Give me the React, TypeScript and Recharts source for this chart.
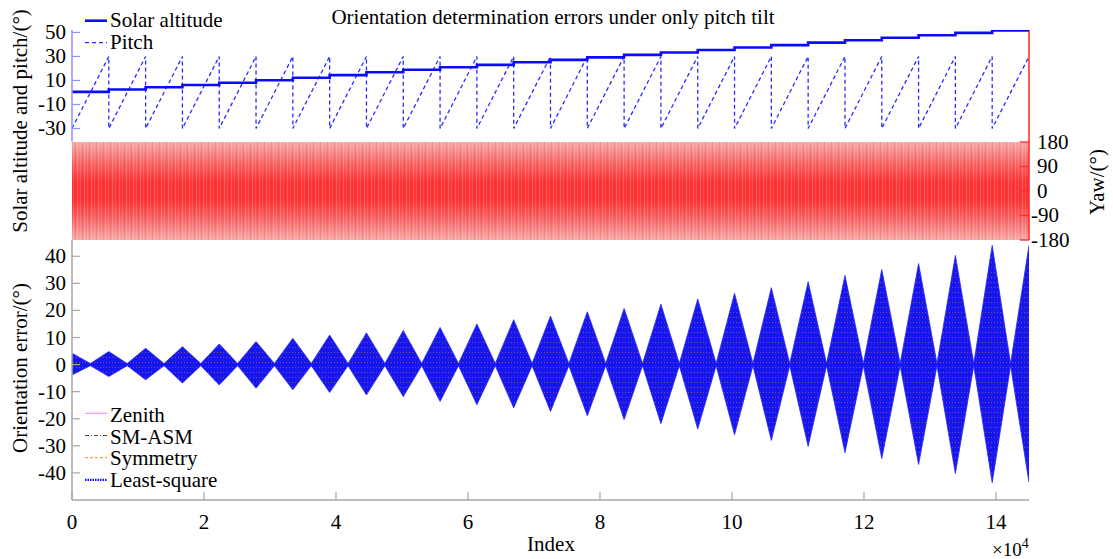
import React from 'react';
import { LineChart, AreaChart, ComposedChart, Line, Area, XAxis, YAxis, Legend } from 'recharts';

// ---------- data ----------
const X_MAX = 145000;
const SWEEP = 5576.9; // index length of one pitch sweep
const solarAltitude = [0.5, 2.5, 4.3, 6.2, 8.1, 10.2, 12.2, 14.4, 16.8, 18.9, 21.0, 23.0, 25.1, 27.1, 29.2, 31.3, 33.3, 35.3, 37.4, 39.4, 41.5, 43.5, 45.5, 47.6, 49.6, 51.6];
const pitchRange = [-30, 30];
const yawRange = [-180, 180];
const errorUpper = [4.2, 4.8, 6.0, 6.6, 7.6, 8.5, 9.7, 10.9, 11.7, 12.6, 13.7, 15.0, 16.6, 17.9, 19.5, 20.7, 22.3, 24.2, 26.3, 28.4, 30.6, 32.9, 35.1, 37.3, 40.3, 44.0, 44.0];
const errorLower = [-3.8, -4.4, -5.6, -6.8, -7.5, -8.7, -9.3, -10.3, -11.2, -11.8, -13.6, -14.8, -16.0, -17.3, -18.9, -20.3, -21.8, -23.8, -25.9, -28.0, -30.2, -32.5, -34.7, -36.9, -40.2, -43.6, -43.5];
const waistError = [-0.4, 0.4];

const xTicks = [0, 20000, 40000, 60000, 80000, 100000, 120000, 140000];
const altTicks = [-30, -10, 10, 30, 50];
const yawTicks = [-180, -90, 0, 90, 180];
const errTicks = [-40, -30, -20, -10, 0, 10, 20, 30, 40];

// ---------- derived tables ----------
const pitchData: { x: number; v: number }[] = [];
solarAltitude.forEach((_, k) => {
  pitchData.push({ x: k * SWEEP, v: pitchRange[0] });
  pitchData.push({ x: (k + 1) * SWEEP, v: pitchRange[1] });
});
const altData = solarAltitude.map((v, k) => ({ x: k * SWEEP, v }));
altData.push({ x: X_MAX, v: solarAltitude[solarAltitude.length - 1] });

const yawData = [{ x: 0, yaw: yawRange }, { x: X_MAX, yaw: yawRange }];

const errData: { x: number; ls: number[] }[] = [];
errorUpper.forEach((hi, k) => {
  errData.push({ x: k * SWEEP, ls: [errorLower[k], hi] });
  if (k < errorUpper.length - 1) errData.push({ x: (k + 0.5) * SWEEP, ls: waistError });
});

// ---------- styling ----------
const FONT = "'Liberation Serif', 'Times New Roman', Times, serif";
const FS = 21;
const W = 1113;

const leftTick = (color: string, margin: number) => (props: any) => {
  const { x, y, payload } = props;
  const ax = x + margin;
  return (
    <g>
      <line x1={ax} x2={ax + 8} y1={y} y2={y} stroke={color} strokeWidth={1.2} />
      <text x={x} y={y} textAnchor="end" dominantBaseline="central" fontSize={FS} fontFamily={FONT} fill="#000">{payload.value}</text>
    </g>
  );
};

const rightTick = (color: string, margin: number) => (props: any) => {
  const { x, y, payload } = props;
  const ax = x - margin;
  const neg = payload.value < 0;
  return (
    <g>
      <line x1={ax} x2={ax - 9} y1={y} y2={y} stroke={color} strokeWidth={1.4} />
      <text x={neg ? x - 6 : x} y={y} textAnchor="start" dominantBaseline="central" fontSize={FS} fontFamily={FONT} fill="#000">{payload.value}</text>
    </g>
  );
};

const bottomTick = (color: string, margin: number) => (props: any) => {
  const { x, y, payload } = props;
  const ay = y - margin;
  return (
    <g>
      <line x1={x} x2={x} y1={ay} y2={ay - 8} stroke={color} strokeWidth={1.2} />
      <text x={x} y={y} textAnchor="middle" dominantBaseline="central" fontSize={FS} fontFamily={FONT} fill="#000">{payload.value / 10000}</text>
    </g>
  );
};

const TopLegend = () => (
  <svg width={190} height={52} style={{ overflow: 'visible' }}>
    <line x1={5} x2={27} y1={15.7} y2={15.7} stroke="#0a0aff" strokeWidth={2.6} />
    <text x={30} y={21.7} fontSize={FS} fontFamily={FONT} fill="#000">Solar altitude</text>
    <line x1={5} x2={27} y1={37.7} y2={37.7} stroke="#2a2aff" strokeWidth={1.3} strokeDasharray="4 3" />
    <text x={30} y={44.3} fontSize={FS} fontFamily={FONT} fill="#000">Pitch</text>
  </svg>
);

const bottomEntries = [
  { name: 'Zenith', color: '#ff7dff', dash: undefined as string | undefined, w: 1 },
  { name: 'SM-ASM', color: '#444444', dash: '4 2 1 2', w: 1 },
  { name: 'Symmetry', color: '#ff8c1a', dash: '3 2', w: 1 },
  { name: 'Least-square', color: '#1010ff', dash: '1.5 1', w: 2.2 },
];

const BottomLegend = () => (
  <svg width={170} height={95} style={{ overflow: 'visible' }}>
    {bottomEntries.map((e, i) => (
      <g key={e.name}>
        <line x1={5} x2={27} y1={13.3 + i * 22.2} y2={13.3 + i * 22.2} stroke={e.color} strokeWidth={e.w} strokeDasharray={e.dash} />
        <text x={30} y={21.7 + i * 21.8} fontSize={FS} fontFamily={FONT} fill="#000">{e.name}</text>
      </g>
    ))}
  </svg>
);

export default function App() {
  return (
    <div style={{ position: 'absolute', left: 0, top: 0, width: W, height: 559, background: '#fff', overflow: 'hidden' }}>
      {/* middle panel: yaw band + red right axis */}
      <div style={{ position: 'absolute', left: 0, top: 0 }}>
        <AreaChart width={W} height={270} data={yawData} margin={{ top: 30, right: 0, bottom: 30, left: 72 }}>
          <defs>
            <linearGradient id="yawGrad" x1="0" y1="0" x2="0" y2="1">
              <stop offset="0%" stopColor="#f7a9a9" />
              <stop offset="18%" stopColor="#f76f6f" />
              <stop offset="40%" stopColor="#ff3434" />
              <stop offset="60%" stopColor="#ff3434" />
              <stop offset="82%" stopColor="#f76f6f" />
              <stop offset="100%" stopColor="#f7a9a9" />
            </linearGradient>
            <pattern id="yawStripes" width="7" height="10" patternUnits="userSpaceOnUse">
              <rect x="0" y="0" width="1" height="10" fill="#ffffff" opacity="0.22" />
              <rect x="3" y="0" width="1" height="10" fill="#ffffff" opacity="0.12" />
              <rect x="5" y="0" width="1" height="10" fill="#b00000" opacity="0.08" />
            </pattern>
          </defs>
          <XAxis type="number" dataKey="x" domain={[0, X_MAX]} hide allowDataOverflow />
          <YAxis orientation="right" width={84} domain={[-180, 591.4]} ticks={yawTicks} interval={0}
            tickSize={0} tickMargin={8} tickLine={false} allowDataOverflow
            axisLine={{ stroke: '#ff3030', strokeWidth: 1.6 }} tick={rightTick('#ff3030', 8)} />
          <Area dataKey="yaw" stroke="none" fill="url(#yawGrad)" fillOpacity={1} isAnimationActive={false} dot={false} />
          <Area dataKey="yaw" stroke="none" fill="url(#yawStripes)" fillOpacity={1} isAnimationActive={false} dot={false} />
        </AreaChart>
      </div>

      {/* top panel: solar altitude and pitch */}
      <div style={{ position: 'absolute', left: 0, top: 0 }}>
        <LineChart width={W} height={160} margin={{ top: 30, right: 84, bottom: 18.3, left: 0 }}>
          <XAxis type="number" dataKey="x" domain={[0, X_MAX]} hide allowDataOverflow />
          <YAxis width={72} domain={[-41, 52]} ticks={altTicks} interval={0} tickSize={0} tickMargin={6}
            tickLine={false} allowDataOverflow axisLine={{ stroke: '#9090ff', strokeWidth: 1.5 }}
            tick={leftTick('#9090ff', 6)} />
          <Line data={pitchData} dataKey="v" name="Pitch" stroke="#2a2aff" strokeWidth={1.3} strokeDasharray="4 3"
            dot={false} isAnimationActive={false} />
          <Line data={altData} dataKey="v" name="Solar altitude" type="stepAfter" stroke="#0a0aff" strokeWidth={2.6}
            dot={false} isAnimationActive={false} />
          <Legend layout="horizontal" verticalAlign="middle" align="center" content={() => <TopLegend />}
            wrapperStyle={{ left: 80, top: 5, width: 190, height: 52 }} />
        </LineChart>
      </div>

      {/* bottom panel: orientation errors */}
      <div style={{ position: 'absolute', left: 0, top: 0 }}>
        <ComposedChart width={W} height={559} data={errData} margin={{ top: 240, right: 84, bottom: 0, left: 0 }}>
          <defs>
            <pattern id="lsPat" width="3" height="5" patternUnits="userSpaceOnUse">
              <rect x="0" y="0" width="3" height="5" fill="#1616ee" />
              <rect x="1" y="2" width="1" height="1" fill="#d8703c" opacity="0.55" />
            </pattern>
          </defs>
          <XAxis type="number" dataKey="x" domain={[0, X_MAX]} ticks={xTicks} interval={0} height={59}
            tickSize={0} tickMargin={22} tickLine={false} allowDataOverflow
            axisLine={{ stroke: '#a6a6a6', strokeWidth: 1.5 }} tick={bottomTick('#a6a6a6', 22)} />
          <YAxis width={72} domain={[-50, 46]} ticks={errTicks} interval={0} tickSize={0} tickMargin={6}
            tickLine={false} allowDataOverflow axisLine={{ stroke: '#a6a6a6', strokeWidth: 1.5 }}
            tick={leftTick('#a6a6a6', 6)} />
          <Area dataKey="ls" name="Least-square" stroke="#2626ff" strokeWidth={0.8} fill="url(#lsPat)" fillOpacity={1}
            isAnimationActive={false} dot={false} />
          <Legend layout="horizontal" verticalAlign="middle" align="center" content={() => <BottomLegend />}
            wrapperStyle={{ left: 80, top: 400, width: 170, height: 95 }} />
        </ComposedChart>
      </div>

      {/* titles */}
      <svg width={W} height={559} style={{ position: 'absolute', left: 0, top: 0, pointerEvents: 'none' }}>
        <text x={553} y={24} textAnchor="middle" fontSize={FS} fontFamily={FONT} fill="#000">
          Orientation determination errors under only pitch tilt
        </text>
        <text transform="translate(20,121) rotate(-90)" textAnchor="middle" dominantBaseline="central" fontSize={FS} fontFamily={FONT} fill="#000">
          Solar altitude and pitch/(°)
        </text>
        <text transform="translate(20,368) rotate(-90)" textAnchor="middle" dominantBaseline="central" fontSize={FS} fontFamily={FONT} fill="#000">
          Orientation error/(°)
        </text>
        <text transform="translate(1097,182) rotate(-90)" textAnchor="middle" dominantBaseline="central" fontSize={FS} fontFamily={FONT} fill="#000">
          Yaw/(°)
        </text>
        <text x={551} y={551} textAnchor="middle" fontSize={FS} fontFamily={FONT} fill="#000">Index</text>
        <text x={992} y={556} fontSize={19} fontFamily={FONT} fill="#000">
          ×10<tspan dy={-8} fontSize={14}>4</tspan>
        </text>
      </svg>
    </div>
  );
}
